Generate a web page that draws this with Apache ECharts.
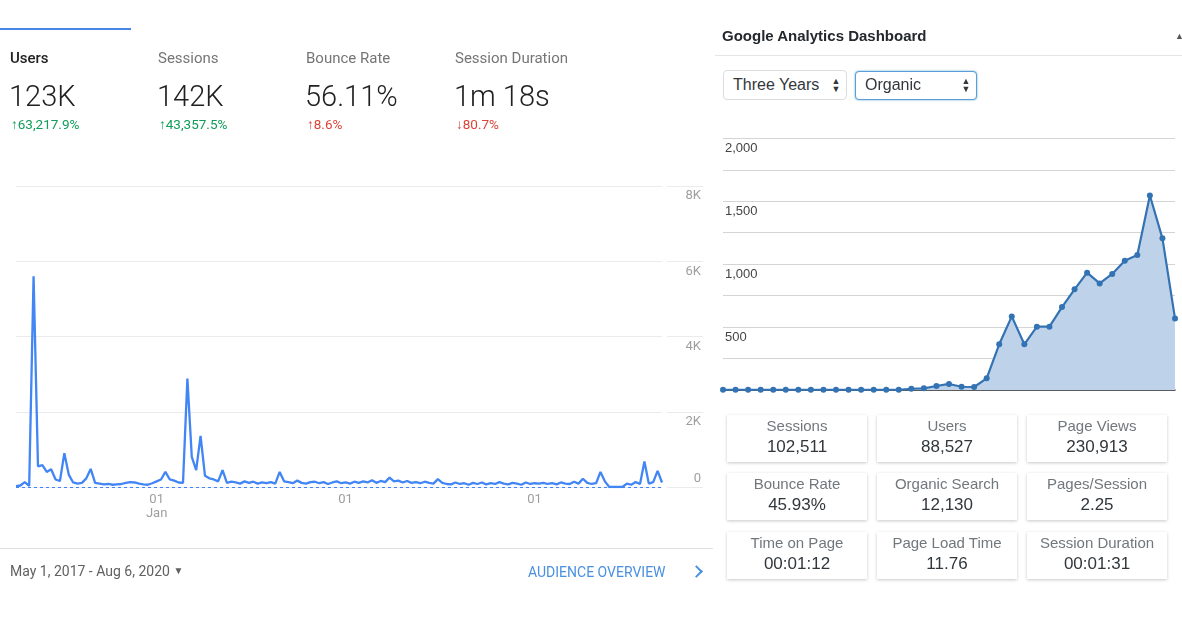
<!DOCTYPE html>
<html>
<head>
<meta charset="utf-8">
<script src="https://cdn.jsdelivr.net/npm/echarts@6/dist/echarts.min.js"></script>
<style>
  html, body { margin: 0; padding: 0; background: #fff; }
  #wrap { position: relative; width: 1182px; height: 630px; overflow: hidden; }
  #chart { position: absolute; left: 0; top: 0; width: 1182px; height: 630px; }
  .abs { position: absolute; white-space: nowrap; }
  .ga { font-family: Roboto, "Liberation Sans", Arial, sans-serif; }
  .wp { font-family: "Liberation Sans", Arial, Helvetica, sans-serif; }
  .tabname { font-size: 15px; color: #757575; line-height: 18px; top: 49px; }
  .tabval { font-size: 29px; font-weight: 300; color: #212121; line-height: 34px; top: 79px; }
  .tabchg { font-size: 13.5px; line-height: 16px; top: 116px; }
  .up { color: #0f9d58; }
  .down { color: #db4437; }
  .box { position: absolute; width: 140px; height: 47px; background: #fff;
         box-shadow: 0 1px 3px rgba(0,0,0,0.22); text-align: center; }
  .box .lbl { position: absolute; left: 0; right: 0; top: 2px; font-size: 15px; color: #72777c; line-height: 18px; }
  .box .val { position: absolute; left: 0; right: 0; top: 22px; font-size: 17px; color: #32373c; line-height: 20px; }
  .sel { position: absolute; height: 28px; border-radius: 4px; background: #fff; }
  .sel .t { position: absolute; left: 9px; top: 5px; font-size: 16px; color: #32373c; line-height: 18px; }
  .sel .ar { position: absolute; top: 6px; width: 10px; font-size: 9px; line-height: 8px; color: #32373c; text-align: center; }
</style>
</head>
<body>
<div id="wrap">
  <div id="chart"></div>

  <!-- left: Google Analytics audience card -->
  <div class="abs" style="left:0;top:28px;width:131px;height:1.5px;background:#4a86e8;"></div>
  <div class="abs ga tabname" style="left:10px;color:#222;font-weight:500;">Users</div>
  <div class="abs ga tabname" style="left:158px;">Sessions</div>
  <div class="abs ga tabname" style="left:306px;">Bounce Rate</div>
  <div class="abs ga tabname" style="left:455px;">Session Duration</div>
  <div class="abs ga tabval" style="left:9px;">123K</div>
  <div class="abs ga tabval" style="left:157px;">142K</div>
  <div class="abs ga tabval" style="left:305px;">56.11%</div>
  <div class="abs ga tabval" style="left:454px;">1m 18s</div>
  <div class="abs ga tabchg up" style="left:11px;"><b>↑</b>63,217.9%</div>
  <div class="abs ga tabchg up" style="left:159px;"><b>↑</b>43,357.5%</div>
  <div class="abs ga tabchg down" style="left:307px;"><b>↑</b>8.6%</div>
  <div class="abs ga tabchg down" style="left:456px;"><b>↓</b>80.7%</div>

  <div class="abs" style="left:0;top:548px;width:713px;height:1px;background:#e0e0e0;"></div>
  <div class="abs ga" style="left:10px;top:562px;font-size:14px;line-height:18px;color:#616161;">May 1, 2017 - Aug 6, 2020 <span style="font-size:10px;position:relative;top:-2px;">▼</span></div>
  <div class="abs ga" style="left:528px;top:563px;font-size:14px;line-height:18px;color:#4a90e2;">AUDIENCE OVERVIEW</div>
  <div class="abs" style="left:692px;top:567px;width:7px;height:7px;border-right:2px solid #4a90e2;border-top:2px solid #4a90e2;transform:rotate(45deg);"></div>

  <!-- right: WordPress dashboard widget -->
  <div class="abs wp" style="left:722px;top:27px;font-size:15px;font-weight:bold;color:#23282d;line-height:18px;">Google Analytics Dashboard</div>
  <div class="abs wp" style="left:1175px;top:31px;font-size:9px;color:#555;">▲</div>
  <div class="abs" style="left:715px;top:55px;width:467px;height:1px;background:#e5e5e5;"></div>

  <div class="sel wp" style="left:723px;top:70px;width:122px;border:1px solid #dcdcdc;">
    <div class="t">Three Years</div>
    <div class="ar" style="left:107px;">▲<br>▼</div>
  </div>
  <div class="sel wp" style="left:855px;top:71px;width:120px;height:27px;border:1px solid #5b9dd9;box-shadow:0 0 2px rgba(30,140,190,0.8);">
    <div class="t" style="top:4px;">Organic</div>
    <div class="ar" style="left:105px;top:5px;">▲<br>▼</div>
  </div>

  <div class="box wp" style="left:727px;top:415px;"><div class="lbl">Sessions</div><div class="val">102,511</div></div>
  <div class="box wp" style="left:877px;top:415px;"><div class="lbl">Users</div><div class="val">88,527</div></div>
  <div class="box wp" style="left:1027px;top:415px;"><div class="lbl">Page Views</div><div class="val">230,913</div></div>
  <div class="box wp" style="left:727px;top:473px;"><div class="lbl">Bounce Rate</div><div class="val">45.93%</div></div>
  <div class="box wp" style="left:877px;top:473px;"><div class="lbl">Organic Search</div><div class="val">12,130</div></div>
  <div class="box wp" style="left:1027px;top:473px;"><div class="lbl">Pages/Session</div><div class="val">2.25</div></div>
  <div class="box wp" style="left:727px;top:532px;"><div class="lbl">Time on Page</div><div class="val">00:01:12</div></div>
  <div class="box wp" style="left:877px;top:532px;"><div class="lbl">Page Load Time</div><div class="val">11.76</div></div>
  <div class="box wp" style="left:1027px;top:532px;"><div class="lbl">Session Duration</div><div class="val">00:01:31</div></div>
</div>

<script>
// ---- Left chart: users (sampled), May 2017 - Aug 2020 ----
const leftUsers = [
  20, 40, 130, 30, 5600, 550, 580, 400, 470, 200,
  160, 900, 330, 120, 90, 110, 230, 480, 110, 90,
  70, 80, 60, 70, 80, 110, 130, 120, 90, 70,
  60, 100, 150, 200, 400, 200, 170, 120, 110, 2880,
  800, 450, 1360, 300, 230, 200, 150, 450, 110, 140,
  120, 90, 150, 110, 140, 90, 120, 100, 130, 90,
  400, 150, 130, 100, 170, 110, 90, 130, 140, 100,
  130, 80, 120, 150, 100, 120, 90, 140, 110, 150,
  120, 180, 110, 160, 130, 250, 150, 170, 120, 160,
  110, 130, 100, 140, 110, 90, 210, 110, 80, 70,
  120, 80, 100, 60, 110, 80, 120, 70, 100, 80,
  130, 90, 70, 110, 90, 60, 120, 80, 100, 90,
  110, 80, 100, 70, 120, 90, 80, 140, 90, 220,
  110, 80, 100, 400, 150, 0, 0, 0, 0, 90,
  60, 130, 80, 680, 90, 130, 430, 120
];
const leftCategories = leftUsers.map((_, i) => 'd' + i);
const leftTickIndex = [32, 75, 118];
const leftTickLabels = ['01\nJan', '01', '01'];
const leftYTickLabels = { 0: '0', 2000: '2K', 4000: '4K', 6000: '6K', 8000: '8K' };

// ---- Right chart: monthly organic sessions, three years ----
const rightMonths = [
  'Aug 2017','Sep 2017','Oct 2017','Nov 2017','Dec 2017','Jan 2018','Feb 2018','Mar 2018','Apr 2018',
  'May 2018','Jun 2018','Jul 2018','Aug 2018','Sep 2018','Oct 2018','Nov 2018','Dec 2018','Jan 2019',
  'Feb 2019','Mar 2019','Apr 2019','May 2019','Jun 2019','Jul 2019','Aug 2019','Sep 2019','Oct 2019',
  'Nov 2019','Dec 2019','Jan 2020','Feb 2020','Mar 2020','Apr 2020','May 2020','Jun 2020','Jul 2020','Aug 2020'
];
const rightOrganic = [
  2, 2, 2, 2, 2, 2, 2, 2, 2, 2,
  2, 2, 2, 2, 2, 10, 13, 32, 48, 26,
  24, 93, 363, 585, 363, 503, 503, 659, 800, 932,
  847, 922, 1027, 1072, 1546, 1205, 569
];
const rightYLabels = { 500: '500', 1000: '1,000', 1500: '1,500', 2000: '2,000' };

const chart = echarts.init(document.getElementById('chart'), null, { renderer: 'canvas' });

chart.setOption({
  animation: false,
  grid: [
    { left: 16, right: 520, top: 186, bottom: 143 },
    { left: 667, right: 479, top: 186, bottom: 143 },
    { left: 723, right: 7, top: 138.3, bottom: 240 }
  ],
  xAxis: [
    {
      gridIndex: 0, type: 'category', boundaryGap: false, data: leftCategories,
      axisLine: { show: false }, axisTick: { show: false },
      axisLabel: {
        interval: (i) => leftTickIndex.includes(i),
        formatter: (v, i) => { const k = leftTickIndex.indexOf(i); return k >= 0 ? leftTickLabels[k] : ''; },
        color: '#9e9e9e', fontSize: 13, lineHeight: 14, margin: 6, fontFamily: 'Roboto'
      },
      splitLine: { show: false }
    },
    { gridIndex: 1, type: 'value', min: 0, max: 1, show: false },
    {
      gridIndex: 2, type: 'category', boundaryGap: false, data: rightMonths,
      axisLine: { show: true, lineStyle: { color: '#333', width: 1.5 } },
      axisTick: { show: false }, axisLabel: { show: false }
    }
  ],
  yAxis: [
    {
      gridIndex: 0, type: 'value', min: 0, max: 8000, interval: 2000, position: 'right',
      axisLine: { show: false }, axisTick: { show: false }, axisLabel: { show: false },
      splitLine: { lineStyle: { color: '#ebebeb', width: 1 } }
    },
    {
      gridIndex: 1, type: 'value', min: 0, max: 8000, interval: 2000, position: 'right',
      axisLine: { show: false }, axisTick: { show: false },
      splitLine: { lineStyle: { color: '#ebebeb', width: 1 } },
      axisLabel: {
        inside: true, margin: 2, verticalAlign: 'middle',
        formatter: (v) => v === 0 ? '{z|' + leftYTickLabels[v] + '}' : '{a|' + leftYTickLabels[v] + '}',
        rich: {
          a: { color: '#9e9e9e', fontSize: 13, fontFamily: 'Roboto', lineHeight: 14, padding: [20, 0, 0, 0] },
          z: { color: '#9e9e9e', fontSize: 13, fontFamily: 'Roboto', lineHeight: 14, padding: [0, 0, 16, 0] }
        }
      }
    },
    {
      gridIndex: 2, type: 'value', min: 0, max: 2000, interval: 250,
      axisLine: { show: false }, axisTick: { show: false },
      splitLine: { lineStyle: { color: '#d4d4d4', width: 1 } },
      axisLabel: {
        inside: true, margin: 2, verticalAlign: 'middle',
        formatter: (v) => rightYLabels[v] ? '{a|' + rightYLabels[v] + '}' : '',
        rich: {
          a: { color: '#444', fontSize: 13, fontFamily: 'Liberation Sans', lineHeight: 14, padding: [20, 0, 0, 0] }
        }
      }
    }
  ],
  series: [
    {
      type: 'line', xAxisIndex: 0, yAxisIndex: 0, data: leftUsers,
      showSymbol: false, symbol: 'none',
      lineStyle: { color: '#4285f4', width: 2.3 },
      markLine: {
        silent: true, symbol: ['none', 'none'], label: { show: false },
        lineStyle: { color: '#4285f4', type: [3, 3], width: 1 },
        data: [{ yAxis: 0 }]
      },
      z: 3
    },
    {
      type: 'line', xAxisIndex: 2, yAxisIndex: 2, data: rightOrganic,
      symbol: 'circle', symbolSize: 6, showSymbol: true,
      itemStyle: { color: '#3473b3' },
      lineStyle: { color: '#3473b3', width: 2.2 },
      areaStyle: { color: '#bed3ea', opacity: 1 },
      z: 3
    }
  ]
});
</script>
</body>
</html>
